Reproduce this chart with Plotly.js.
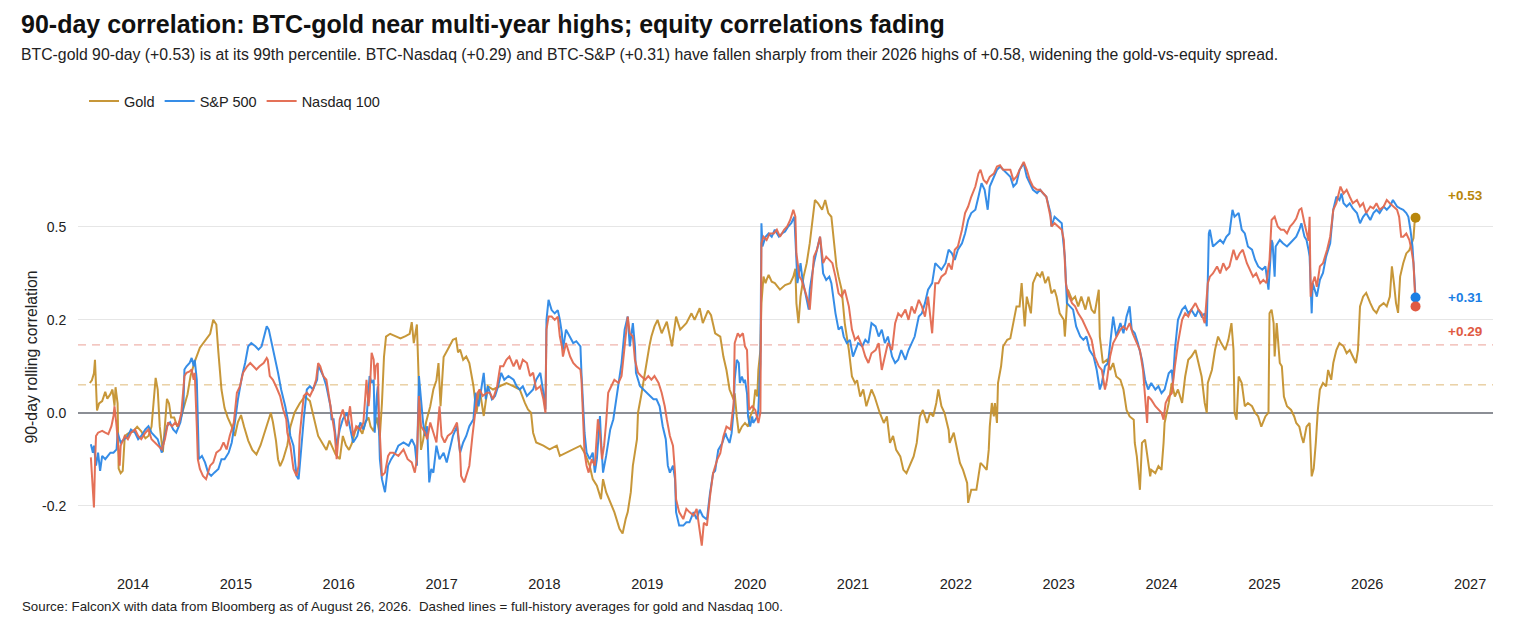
<!DOCTYPE html>
<html>
<head>
<meta charset="utf-8">
<script src="https://cdn.plot.ly/plotly-3.0.1.min.js"></script>
<style>html,body{margin:0;padding:0;background:#fff}#chart{width:1517px;height:630px}</style>
</head>
<body>
<div id="chart"></div>
<script>
// ---------- DATA (decimal year, 90-day rolling correlation as plotted) ----------
const goldDates = [2013.58,2013.60,2013.62,2013.63,2013.65,2013.67,2013.70,2013.73,2013.75,2013.78,2013.80,2013.82,2013.83,2013.85,2013.86,2013.88,2013.90,2013.92,2013.95,2014.00,2014.04,2014.08,2014.12,2014.15,2014.18,2014.20,2014.22,2014.24,2014.26,2014.29,2014.31,2014.33,2014.35,2014.37,2014.40,2014.43,2014.46,2014.50,2014.53,2014.56,2014.60,2014.65,2014.70,2014.75,2014.78,2014.81,2014.83,2014.86,2014.89,2014.92,2014.96,2014.99,2015.02,2015.05,2015.08,2015.12,2015.16,2015.20,2015.24,2015.28,2015.31,2015.34,2015.36,2015.39,2015.41,2015.43,2015.46,2015.50,2015.53,2015.57,2015.62,2015.67,2015.72,2015.76,2015.80,2015.84,2015.88,2015.91,2015.94,2015.97,2016.01,2016.04,2016.07,2016.10,2016.13,2016.16,2016.19,2016.23,2016.26,2016.29,2016.31,2016.34,2016.37,2016.40,2016.42,2016.44,2016.46,2016.50,2016.55,2016.60,2016.65,2016.69,2016.71,2016.73,2016.76,2016.78,2016.80,2016.82,2016.85,2016.89,2016.92,2016.95,2016.97,2016.99,2017.02,2017.06,2017.11,2017.14,2017.16,2017.18,2017.21,2017.24,2017.27,2017.30,2017.31,2017.34,2017.37,2017.41,2017.45,2017.50,2017.57,2017.63,2017.70,2017.76,2017.81,2017.84,2017.87,2017.89,2017.92,2017.99,2018.05,2018.12,2018.15,2018.21,2018.28,2018.35,2018.39,2018.44,2018.47,2018.51,2018.55,2018.57,2018.60,2018.65,2018.68,2018.73,2018.76,2018.79,2018.81,2018.84,2018.86,2018.90,2018.91,2018.94,2018.99,2019.02,2019.04,2019.07,2019.10,2019.14,2019.19,2019.24,2019.28,2019.32,2019.38,2019.43,2019.46,2019.51,2019.54,2019.59,2019.62,2019.66,2019.71,2019.74,2019.77,2019.80,2019.84,2019.85,2019.87,2019.89,2019.92,2019.95,2019.98,2020.00,2020.03,2020.05,2020.07,2020.08,2020.10,2020.11,2020.13,2020.15,2020.16,2020.18,2020.21,2020.24,2020.29,2020.34,2020.39,2020.42,2020.44,2020.45,2020.47,2020.49,2020.52,2020.55,2020.58,2020.60,2020.63,2020.66,2020.70,2020.73,2020.76,2020.79,2020.81,2020.83,2020.84,2020.86,2020.89,2020.92,2020.96,2020.99,2021.02,2021.04,2021.07,2021.10,2021.13,2021.18,2021.21,2021.26,2021.30,2021.33,2021.36,2021.39,2021.42,2021.46,2021.49,2021.52,2021.55,2021.59,2021.62,2021.65,2021.68,2021.72,2021.75,2021.78,2021.81,2021.83,2021.86,2021.89,2021.93,2021.94,2021.98,2022.01,2022.04,2022.07,2022.11,2022.12,2022.15,2022.20,2022.24,2022.27,2022.30,2022.32,2022.33,2022.35,2022.37,2022.38,2022.40,2022.41,2022.44,2022.46,2022.50,2022.53,2022.56,2022.59,2022.62,2022.64,2022.67,2022.69,2022.73,2022.75,2022.79,2022.82,2022.84,2022.87,2022.90,2022.93,2022.96,2022.98,2023.01,2023.05,2023.06,2023.09,2023.13,2023.16,2023.19,2023.22,2023.26,2023.29,2023.32,2023.35,2023.39,2023.40,2023.43,2023.47,2023.50,2023.53,2023.56,2023.60,2023.63,2023.66,2023.69,2023.73,2023.74,2023.76,2023.79,2023.81,2023.84,2023.87,2023.89,2023.90,2023.94,2023.97,2024.00,2024.02,2024.03,2024.07,2024.10,2024.13,2024.16,2024.20,2024.23,2024.26,2024.29,2024.33,2024.36,2024.39,2024.42,2024.44,2024.45,2024.49,2024.52,2024.55,2024.58,2024.62,2024.65,2024.68,2024.70,2024.71,2024.73,2024.75,2024.78,2024.81,2024.84,2024.88,2024.91,2024.94,2024.97,2025.01,2025.04,2025.05,2025.07,2025.09,2025.10,2025.12,2025.15,2025.17,2025.19,2025.22,2025.26,2025.29,2025.31,2025.34,2025.36,2025.38,2025.41,2025.44,2025.46,2025.48,2025.50,2025.52,2025.54,2025.57,2025.60,2025.62,2025.65,2025.67,2025.70,2025.73,2025.77,2025.80,2025.83,2025.86,2025.89,2025.91,2025.93,2025.96,2025.99,2026.03,2026.06,2026.09,2026.12,2026.16,2026.19,2026.22,2026.24,2026.26,2026.28,2026.30,2026.32,2026.35,2026.38,2026.41,2026.43,2026.45,2026.46,2026.47];
const goldCorr = [0.064,0.07,0.085,0.114,0.005,0.02,0.025,0.045,0.03,0.04,0.05,0.015,0.055,0.02,-0.12,-0.13,-0.125,-0.05,-0.045,-0.04,-0.03,-0.04,-0.055,-0.05,-0.03,0.02,0.075,0.05,-0.03,-0.085,-0.03,0.03,0.02,-0.01,-0.01,-0.03,-0.015,0.02,0.04,0.08,0.11,0.14,0.155,0.17,0.2,0.19,0.13,0.05,0.01,-0.01,-0.03,-0.05,-0.02,-0.005,-0.03,-0.06,-0.08,-0.09,-0.07,-0.04,-0.02,0.0,-0.02,-0.06,-0.1,-0.115,-0.1,-0.07,-0.03,0.0,0.02,0.035,0.025,-0.01,-0.05,-0.065,-0.08,-0.06,-0.075,-0.09,-0.1,-0.05,-0.07,-0.08,-0.065,-0.04,-0.03,-0.045,-0.02,-0.01,-0.03,-0.04,-0.01,-0.05,0.02,0.12,0.164,0.17,0.165,0.16,0.165,0.17,0.195,0.15,0.19,0.05,-0.08,-0.06,-0.02,0.014,0.05,0.07,0.107,0.014,0.12,0.136,0.157,0.16,0.13,0.136,0.114,0.121,0.107,0.07,0.057,0.0,0.05,-0.007,0.057,0.05,0.057,0.064,0.057,0.05,0.021,0.007,0.0,-0.043,-0.064,-0.071,-0.079,-0.071,-0.093,-0.086,-0.079,-0.071,-0.086,-0.114,-0.143,-0.157,-0.186,-0.143,-0.171,-0.2,-0.214,-0.25,-0.26,-0.229,-0.214,-0.171,-0.114,-0.057,0.0,0.036,0.107,0.143,0.164,0.186,0.2,0.171,0.196,0.143,0.207,0.179,0.193,0.214,0.2,0.225,0.193,0.22,0.21,0.171,0.164,0.121,0.092,0.05,0.028,0.042,-0.008,-0.044,-0.03,-0.022,-0.03,-0.008,0.006,0.05,0.035,0.092,0.135,0.236,0.293,0.279,0.286,0.297,0.282,0.279,0.265,0.275,0.279,0.293,0.31,0.236,0.193,0.25,0.293,0.322,0.365,0.408,0.458,0.451,0.437,0.458,0.43,0.422,0.379,0.329,0.315,0.293,0.265,0.193,0.135,0.078,0.064,0.07,0.035,0.05,0.014,0.05,0.035,0.0,-0.022,-0.008,-0.065,-0.05,-0.08,-0.094,-0.123,-0.13,-0.115,-0.094,-0.065,-0.008,0.006,-0.022,0.0,-0.008,0.021,0.05,0.014,0.0,-0.037,-0.065,-0.043,-0.08,-0.108,-0.123,-0.151,-0.194,-0.166,-0.166,-0.108,-0.115,-0.123,-0.08,-0.03,0.021,-0.008,0.021,-0.022,0.064,0.1,0.143,0.157,0.16,0.193,0.229,0.229,0.279,0.186,0.25,0.214,0.279,0.3,0.293,0.304,0.279,0.293,0.257,0.265,0.25,0.214,0.2,0.164,0.265,0.243,0.25,0.229,0.25,0.222,0.25,0.222,0.214,0.265,0.164,0.107,0.114,0.092,0.107,0.078,0.071,0.05,0.006,-0.008,-0.015,-0.065,-0.094,-0.166,-0.065,-0.058,-0.101,-0.137,-0.123,-0.13,-0.115,-0.123,-0.065,-0.022,0.021,0.064,0.035,0.05,0.021,0.078,0.114,0.121,0.135,0.107,0.078,0.021,0.0,0.064,0.092,0.135,0.164,0.15,0.135,0.157,0.193,0.135,0.0,-0.015,0.078,0.064,0.014,0.021,0.014,0.0,-0.008,-0.03,-0.008,0.0,0.214,0.222,0.193,0.121,0.193,0.107,0.1,0.035,0.014,0.006,-0.008,-0.022,-0.03,-0.05,-0.065,-0.03,-0.022,-0.137,-0.12,-0.065,0.006,0.05,0.064,0.057,0.092,0.071,0.107,0.135,0.15,0.143,0.128,0.135,0.121,0.107,0.135,0.229,0.25,0.258,0.236,0.222,0.215,0.229,0.236,0.229,0.25,0.315,0.279,0.236,0.215,0.293,0.322,0.343,0.35,0.365,0.376,0.408,0.42];

const spxDates = [2013.59,2013.61,2013.62,2013.64,2013.66,2013.68,2013.70,2013.73,2013.78,2013.81,2013.84,2013.85,2013.88,2013.91,2013.95,2013.98,2014.02,2014.05,2014.08,2014.12,2014.15,2014.18,2014.21,2014.24,2014.28,2014.29,2014.33,2014.36,2014.39,2014.42,2014.46,2014.49,2014.50,2014.52,2014.55,2014.57,2014.59,2014.60,2014.62,2014.64,2014.67,2014.70,2014.73,2014.76,2014.79,2014.83,2014.86,2014.89,2014.93,2014.96,2014.99,2015.02,2015.06,2015.09,2015.12,2015.15,2015.19,2015.22,2015.25,2015.28,2015.30,2015.32,2015.35,2015.38,2015.41,2015.44,2015.48,2015.51,2015.53,2015.56,2015.59,2015.61,2015.62,2015.66,2015.69,2015.72,2015.75,2015.79,2015.80,2015.82,2015.85,2015.88,2015.92,2015.93,2015.95,2015.98,2016.01,2016.04,2016.08,2016.11,2016.14,2016.18,2016.21,2016.24,2016.27,2016.30,2016.32,2016.34,2016.35,2016.37,2016.38,2016.40,2016.42,2016.45,2016.48,2016.51,2016.55,2016.58,2016.63,2016.68,2016.71,2016.74,2016.76,2016.78,2016.80,2016.82,2016.84,2016.86,2016.88,2016.90,2016.92,2016.95,2016.98,2017.02,2017.05,2017.08,2017.11,2017.15,2017.18,2017.21,2017.24,2017.27,2017.31,2017.33,2017.36,2017.39,2017.41,2017.43,2017.45,2017.49,2017.52,2017.55,2017.58,2017.61,2017.65,2017.70,2017.73,2017.76,2017.79,2017.83,2017.86,2017.89,2017.92,2017.96,2017.99,2018.01,2018.02,2018.04,2018.07,2018.10,2018.13,2018.15,2018.17,2018.18,2018.21,2018.25,2018.28,2018.31,2018.35,2018.36,2018.38,2018.39,2018.41,2018.44,2018.47,2018.49,2018.51,2018.54,2018.55,2018.57,2018.60,2018.64,2018.67,2018.70,2018.73,2018.75,2018.78,2018.81,2018.83,2018.86,2018.88,2018.89,2018.93,2018.96,2018.99,2019.02,2019.06,2019.09,2019.12,2019.15,2019.18,2019.20,2019.22,2019.25,2019.27,2019.28,2019.31,2019.35,2019.38,2019.41,2019.45,2019.48,2019.51,2019.54,2019.58,2019.61,2019.64,2019.66,2019.69,2019.73,2019.76,2019.77,2019.80,2019.82,2019.84,2019.85,2019.87,2019.89,2019.90,2019.92,2019.94,2019.95,2019.97,2019.98,2020.00,2020.02,2020.03,2020.05,2020.07,2020.08,2020.10,2020.11,2020.12,2020.15,2020.18,2020.21,2020.24,2020.28,2020.31,2020.34,2020.37,2020.40,2020.43,2020.45,2020.46,2020.49,2020.51,2020.53,2020.57,2020.58,2020.62,2020.65,2020.68,2020.71,2020.74,2020.77,2020.79,2020.83,2020.86,2020.89,2020.91,2020.94,2020.97,2021.00,2021.04,2021.05,2021.09,2021.12,2021.15,2021.18,2021.22,2021.25,2021.28,2021.31,2021.34,2021.38,2021.41,2021.44,2021.47,2021.51,2021.54,2021.57,2021.60,2021.64,2021.67,2021.70,2021.73,2021.77,2021.80,2021.83,2021.86,2021.90,2021.93,2021.96,2021.99,2022.02,2022.06,2022.09,2022.12,2022.15,2022.19,2022.22,2022.25,2022.28,2022.31,2022.33,2022.37,2022.40,2022.43,2022.46,2022.49,2022.53,2022.56,2022.59,2022.62,2022.66,2022.69,2022.72,2022.75,2022.79,2022.82,2022.85,2022.88,2022.92,2022.93,2022.96,2023.00,2023.03,2023.04,2023.06,2023.08,2023.11,2023.14,2023.17,2023.21,2023.24,2023.27,2023.30,2023.34,2023.37,2023.40,2023.42,2023.45,2023.48,2023.51,2023.53,2023.56,2023.60,2023.63,2023.66,2023.69,2023.71,2023.74,2023.77,2023.81,2023.84,2023.87,2023.90,2023.94,2023.97,2024.00,2024.03,2024.07,2024.10,2024.11,2024.13,2024.16,2024.20,2024.23,2024.26,2024.29,2024.33,2024.36,2024.39,2024.42,2024.44,2024.46,2024.47,2024.50,2024.54,2024.57,2024.60,2024.63,2024.66,2024.69,2024.71,2024.75,2024.78,2024.81,2024.84,2024.88,2024.91,2024.94,2024.98,2025.01,2025.04,2025.07,2025.08,2025.10,2025.11,2025.15,2025.18,2025.22,2025.25,2025.28,2025.31,2025.34,2025.36,2025.39,2025.41,2025.43,2025.44,2025.46,2025.47,2025.51,2025.54,2025.57,2025.60,2025.64,2025.67,2025.70,2025.73,2025.75,2025.77,2025.80,2025.83,2025.86,2025.90,2025.93,2025.96,2025.99,2026.03,2026.06,2026.09,2026.12,2026.16,2026.19,2026.22,2026.25,2026.29,2026.32,2026.35,2026.38,2026.40,2026.42,2026.44,2026.45,2026.46,2026.47];
const spxCorr = [-0.068,-0.086,-0.071,-0.114,-0.086,-0.125,-0.093,-0.1,-0.086,-0.086,-0.079,-0.043,-0.064,-0.057,-0.05,-0.036,-0.043,-0.057,-0.05,-0.036,-0.029,-0.043,-0.05,-0.057,-0.086,-0.071,-0.029,-0.021,-0.036,-0.043,-0.021,0.014,0.093,0.1,0.107,0.118,0.1,0.114,0.071,-0.1,-0.093,-0.107,-0.129,-0.136,-0.129,-0.121,-0.1,-0.1,-0.086,-0.064,-0.021,0.029,0.079,0.107,0.143,0.15,0.143,0.136,0.143,0.171,0.186,0.179,0.15,0.114,0.086,0.05,0.014,-0.021,-0.05,-0.071,-0.136,-0.143,-0.114,-0.014,0.05,0.057,0.05,0.071,0.1,0.093,0.079,0.057,0.014,-0.014,-0.014,-0.071,-0.036,-0.014,0.0,-0.036,-0.064,-0.05,-0.021,-0.036,-0.014,0.079,0.064,0.071,-0.043,0.036,0.057,-0.1,-0.143,-0.171,-0.114,-0.1,-0.086,-0.071,-0.064,-0.071,-0.057,-0.071,-0.114,0.079,0.029,-0.021,-0.05,-0.029,-0.15,-0.121,-0.129,-0.071,-0.1,-0.086,-0.107,-0.079,-0.05,-0.029,-0.086,-0.064,-0.05,-0.029,-0.014,0.043,0.014,0.057,0.086,0.029,0.057,0.029,0.036,0.057,0.086,0.071,0.079,0.071,0.057,0.05,0.057,0.036,0.043,0.05,0.071,0.086,0.043,0.007,0.2,0.243,0.221,0.214,0.221,0.2,0.171,0.136,0.179,0.164,0.15,0.154,0.143,0.086,0.0,-0.043,-0.086,-0.1,-0.086,-0.129,-0.1,-0.007,-0.057,-0.129,-0.093,-0.036,-0.014,0.029,0.071,0.107,0.179,0.207,0.143,0.193,0.143,0.086,0.057,0.05,0.043,0.036,0.029,0.029,0.014,-0.029,-0.057,-0.114,-0.129,-0.114,-0.143,-0.214,-0.243,-0.243,-0.236,-0.236,-0.214,-0.229,-0.209,-0.223,-0.23,-0.173,-0.13,-0.125,-0.08,-0.065,-0.044,-0.051,-0.065,-0.044,0.006,0.071,0.114,0.107,0.064,0.078,0.064,0.071,0.042,-0.008,-0.03,-0.008,-0.022,-0.015,-0.008,0.006,0.107,0.408,0.358,0.379,0.386,0.379,0.394,0.379,0.386,0.39,0.401,0.408,0.422,0.329,0.279,0.322,0.286,0.265,0.222,0.265,0.322,0.351,0.379,0.3,0.286,0.293,0.279,0.214,0.179,0.186,0.164,0.15,0.157,0.121,0.143,0.15,0.143,0.157,0.15,0.193,0.186,0.164,0.179,0.15,0.164,0.121,0.107,0.114,0.135,0.114,0.135,0.15,0.164,0.207,0.214,0.236,0.265,0.279,0.322,0.315,0.308,0.322,0.351,0.344,0.329,0.351,0.365,0.386,0.415,0.43,0.437,0.465,0.494,0.48,0.437,0.487,0.508,0.523,0.53,0.523,0.516,0.508,0.487,0.494,0.523,0.537,0.508,0.494,0.48,0.473,0.48,0.472,0.465,0.43,0.401,0.422,0.415,0.408,0.379,0.336,0.236,0.229,0.222,0.186,0.164,0.157,0.164,0.135,0.121,0.092,0.05,0.064,0.1,0.107,0.164,0.207,0.164,0.193,0.171,0.207,0.229,0.179,0.171,0.15,0.114,0.071,0.05,0.064,0.05,0.057,0.042,0.05,0.085,0.092,0.064,0.135,0.2,0.222,0.229,0.214,0.222,0.207,0.222,0.207,0.214,0.186,0.386,0.394,0.358,0.365,0.372,0.365,0.379,0.386,0.437,0.422,0.43,0.394,0.386,0.358,0.351,0.329,0.315,0.308,0.315,0.265,0.372,0.365,0.293,0.358,0.372,0.365,0.358,0.365,0.372,0.379,0.394,0.408,0.379,0.372,0.35,0.336,0.214,0.279,0.25,0.286,0.301,0.336,0.365,0.437,0.465,0.458,0.472,0.451,0.444,0.451,0.44,0.43,0.408,0.422,0.43,0.415,0.43,0.437,0.43,0.444,0.437,0.444,0.458,0.444,0.44,0.437,0.43,0.422,0.394,0.358,0.322,0.28,0.248];

const ndxDates = [2013.59,2013.60,2013.61,2013.62,2013.63,2013.64,2013.66,2013.70,2013.73,2013.76,2013.79,2013.81,2013.82,2013.84,2013.87,2013.88,2013.92,2013.95,2013.98,2014.02,2014.05,2014.08,2014.12,2014.15,2014.18,2014.21,2014.24,2014.28,2014.31,2014.34,2014.38,2014.41,2014.44,2014.47,2014.50,2014.52,2014.55,2014.57,2014.59,2014.60,2014.62,2014.63,2014.65,2014.68,2014.71,2014.75,2014.78,2014.81,2014.85,2014.88,2014.91,2014.94,2014.98,2015.01,2015.04,2015.07,2015.11,2015.14,2015.17,2015.20,2015.23,2015.27,2015.30,2015.31,2015.33,2015.36,2015.39,2015.43,2015.46,2015.49,2015.50,2015.53,2015.56,2015.59,2015.61,2015.62,2015.66,2015.69,2015.72,2015.75,2015.78,2015.80,2015.82,2015.85,2015.88,2015.91,2015.93,2015.96,2015.98,2016.01,2016.04,2016.08,2016.11,2016.14,2016.17,2016.21,2016.24,2016.27,2016.29,2016.30,2016.32,2016.34,2016.35,2016.36,2016.38,2016.39,2016.42,2016.45,2016.48,2016.50,2016.53,2016.58,2016.63,2016.67,2016.71,2016.74,2016.76,2016.78,2016.80,2016.84,2016.86,2016.89,2016.92,2016.95,2016.98,2017.00,2017.03,2017.06,2017.10,2017.13,2017.15,2017.18,2017.19,2017.22,2017.25,2017.27,2017.30,2017.32,2017.35,2017.37,2017.40,2017.44,2017.47,2017.50,2017.54,2017.57,2017.60,2017.63,2017.66,2017.70,2017.73,2017.76,2017.79,2017.83,2017.86,2017.89,2017.92,2017.96,2017.99,2018.01,2018.02,2018.04,2018.07,2018.10,2018.13,2018.15,2018.17,2018.18,2018.21,2018.25,2018.28,2018.31,2018.35,2018.36,2018.38,2018.39,2018.41,2018.43,2018.46,2018.49,2018.52,2018.54,2018.56,2018.58,2018.60,2018.62,2018.65,2018.68,2018.72,2018.75,2018.78,2018.81,2018.83,2018.86,2018.88,2018.91,2018.94,2018.98,2019.01,2019.04,2019.07,2019.11,2019.14,2019.17,2019.19,2019.22,2019.25,2019.27,2019.28,2019.31,2019.35,2019.38,2019.41,2019.45,2019.48,2019.50,2019.53,2019.55,2019.58,2019.61,2019.64,2019.68,2019.71,2019.74,2019.77,2019.81,2019.84,2019.85,2019.88,2019.90,2019.93,2019.95,2019.97,2019.99,2020.02,2020.05,2020.08,2020.10,2020.11,2020.13,2020.16,2020.19,2020.23,2020.26,2020.29,2020.33,2020.36,2020.39,2020.42,2020.44,2020.45,2020.48,2020.50,2020.53,2020.57,2020.58,2020.62,2020.65,2020.68,2020.71,2020.74,2020.77,2020.80,2020.83,2020.86,2020.89,2020.92,2020.96,2020.99,2021.02,2021.05,2021.09,2021.12,2021.15,2021.18,2021.22,2021.25,2021.28,2021.31,2021.34,2021.38,2021.41,2021.44,2021.47,2021.51,2021.54,2021.57,2021.60,2021.64,2021.67,2021.70,2021.73,2021.77,2021.78,2021.80,2021.83,2021.86,2021.90,2021.93,2021.96,2021.99,2022.02,2022.06,2022.09,2022.12,2022.15,2022.19,2022.22,2022.24,2022.27,2022.30,2022.33,2022.37,2022.40,2022.43,2022.46,2022.49,2022.53,2022.56,2022.59,2022.62,2022.66,2022.69,2022.72,2022.75,2022.79,2022.82,2022.85,2022.88,2022.92,2022.93,2022.96,2023.00,2023.03,2023.05,2023.07,2023.09,2023.13,2023.16,2023.19,2023.23,2023.26,2023.29,2023.32,2023.35,2023.39,2023.42,2023.45,2023.47,2023.50,2023.53,2023.56,2023.60,2023.63,2023.66,2023.69,2023.72,2023.76,2023.79,2023.82,2023.84,2023.86,2023.87,2023.90,2023.94,2023.97,2024.00,2024.02,2024.04,2024.07,2024.10,2024.13,2024.16,2024.20,2024.23,2024.26,2024.29,2024.33,2024.36,2024.39,2024.42,2024.45,2024.47,2024.50,2024.54,2024.57,2024.60,2024.63,2024.66,2024.70,2024.73,2024.76,2024.79,2024.83,2024.86,2024.89,2024.92,2024.96,2024.99,2025.02,2025.05,2025.07,2025.10,2025.13,2025.16,2025.19,2025.22,2025.25,2025.28,2025.31,2025.34,2025.36,2025.39,2025.42,2025.43,2025.44,2025.45,2025.47,2025.49,2025.51,2025.54,2025.57,2025.61,2025.64,2025.67,2025.70,2025.74,2025.77,2025.80,2025.83,2025.86,2025.90,2025.93,2025.96,2025.99,2026.03,2026.06,2026.09,2026.12,2026.16,2026.19,2026.22,2026.25,2026.29,2026.31,2026.33,2026.35,2026.38,2026.41,2026.43,2026.45,2026.46,2026.47];
const ndxCorr = [-0.096,-0.129,-0.157,-0.204,-0.114,-0.05,-0.043,-0.039,-0.043,-0.046,-0.029,-0.007,0.014,-0.029,-0.114,-0.071,-0.05,-0.057,-0.043,-0.036,-0.05,-0.057,-0.043,-0.036,-0.057,-0.064,-0.071,-0.079,-0.057,-0.021,-0.029,-0.021,-0.029,0.0,0.079,0.086,0.089,0.093,0.071,0.086,-0.029,-0.1,-0.121,-0.136,-0.143,-0.114,-0.107,-0.086,-0.079,-0.064,-0.079,-0.05,-0.021,0.043,0.057,0.086,0.1,0.107,0.1,0.093,0.1,0.107,0.118,0.114,0.079,0.071,0.057,0.036,0.007,-0.014,-0.043,-0.071,-0.121,-0.136,-0.114,-0.05,0.036,0.043,0.036,0.05,0.071,0.107,0.1,0.079,0.071,0.021,0.0,-0.043,-0.1,-0.014,0.007,-0.029,0.014,-0.05,-0.029,-0.036,-0.021,0.071,0.014,0.036,0.129,0.114,0.071,0.1,0.107,0.0,-0.136,-0.129,-0.093,-0.086,-0.086,-0.093,-0.079,-0.1,-0.107,-0.129,-0.1,0.036,-0.029,-0.043,-0.057,-0.021,-0.043,-0.064,0.014,-0.05,-0.064,-0.05,-0.043,-0.029,-0.021,-0.086,-0.136,-0.15,-0.129,-0.114,-0.05,-0.007,0.043,0.05,0.036,0.043,0.043,0.029,0.057,0.1,0.1,0.114,0.121,0.1,0.114,0.093,0.114,0.107,0.079,0.086,0.05,0.057,0.029,0.0,0.179,0.207,0.207,0.2,0.207,0.164,0.143,0.121,0.15,0.121,0.107,0.1,0.093,0.071,-0.029,-0.086,-0.114,-0.129,-0.1,-0.114,-0.014,-0.043,-0.1,-0.071,-0.021,0.043,0.057,0.071,0.064,0.079,0.143,0.207,0.171,0.164,0.114,0.086,0.079,0.071,0.079,0.071,0.079,0.064,0.043,0.014,-0.014,-0.05,-0.071,-0.129,-0.186,-0.214,-0.229,-0.207,-0.214,-0.221,-0.207,-0.243,-0.286,-0.237,-0.243,-0.18,-0.13,-0.101,-0.087,-0.051,-0.03,-0.036,0.021,0.15,0.171,0.164,0.171,0.143,0.135,0.006,0.014,0.006,-0.022,0.0,0.365,0.379,0.372,0.386,0.386,0.394,0.379,0.394,0.401,0.415,0.437,0.422,0.343,0.293,0.286,0.265,0.236,0.222,0.336,0.351,0.379,0.322,0.336,0.329,0.322,0.293,0.257,0.25,0.265,0.229,0.179,0.157,0.164,0.143,0.121,0.107,0.128,0.135,0.15,0.092,0.121,0.15,0.135,0.193,0.214,0.207,0.222,0.2,0.229,0.214,0.243,0.229,0.207,0.25,0.171,0.207,0.279,0.279,0.293,0.3,0.322,0.308,0.351,0.358,0.394,0.43,0.444,0.465,0.487,0.515,0.523,0.501,0.494,0.508,0.515,0.53,0.533,0.523,0.523,0.523,0.501,0.508,0.523,0.54,0.523,0.501,0.487,0.48,0.48,0.472,0.465,0.422,0.401,0.408,0.401,0.394,0.372,0.279,0.257,0.236,0.229,0.214,0.2,0.186,0.171,0.157,0.121,0.1,0.092,0.05,0.071,0.121,0.15,0.164,0.179,0.186,0.179,0.193,0.171,0.15,0.135,0.092,0.042,-0.022,0.035,0.028,0.014,0.006,0.0,-0.015,0.021,0.035,0.042,0.1,0.15,0.2,0.214,0.207,0.222,0.236,0.222,0.214,0.193,0.279,0.293,0.3,0.315,0.3,0.322,0.308,0.315,0.351,0.329,0.343,0.351,0.322,0.308,0.293,0.3,0.279,0.286,0.279,0.329,0.415,0.422,0.401,0.394,0.394,0.386,0.401,0.408,0.418,0.437,0.44,0.408,0.379,0.37,0.422,0.25,0.28,0.293,0.271,0.315,0.322,0.351,0.379,0.437,0.451,0.487,0.472,0.48,0.465,0.451,0.458,0.444,0.451,0.43,0.444,0.44,0.451,0.437,0.444,0.458,0.451,0.444,0.437,0.422,0.379,0.379,0.386,0.372,0.351,0.322,0.25,0.229];

// full-history averages (dashed reference lines)
const goldAvg = 0.06;
const ndxAvg = 0.146;

const seriesNames = ['Gold', 'S&P 500', 'Nasdaq 100'];
const endLabels = ['+0.53', '+0.31', '+0.29'];
const yearTicks = [2014,2015,2016,2017,2018,2019,2020,2021,2022,2023,2024,2025,2026,2027];
const yTickVals = [-0.2, 0.0, 0.2, 0.4];
const yTickText = ['-0.2', '0.0', '0.2', '0.5'];

// ---------- STYLE ----------
const C_GOLD = '#C4912E', C_SPX = '#2B87E6', C_NDX = '#E3694F';
const C_GOLD_DOT = '#B8860B', C_SPX_DOT = '#1A7EE4', C_NDX_DOT = '#E05A43';
const FONT = '"Liberation Sans", Arial, Helvetica, sans-serif';

const last = a => a[a.length - 1];

const traces = [
  {x: goldDates, y: goldCorr, name: seriesNames[0], mode: 'lines', line: {color: C_GOLD, width: 2}, opacity: 0.95, hoverinfo: 'skip'},
  {x: spxDates, y: spxCorr, name: seriesNames[1], mode: 'lines', line: {color: C_SPX, width: 2}, opacity: 0.95, hoverinfo: 'skip'},
  {x: ndxDates, y: ndxCorr, name: seriesNames[2], mode: 'lines', line: {color: C_NDX, width: 2}, opacity: 0.95, hoverinfo: 'skip'},
  {x: [last(goldDates)], y: [last(goldCorr)], mode: 'markers', marker: {color: C_GOLD_DOT, size: 10}, showlegend: false, hoverinfo: 'skip'},
  {x: [last(spxDates)], y: [last(spxCorr)], mode: 'markers', marker: {color: C_SPX_DOT, size: 10}, showlegend: false, hoverinfo: 'skip'},
  {x: [last(ndxDates)], y: [last(ndxCorr)], mode: 'markers', marker: {color: C_NDX_DOT, size: 10}, showlegend: false, hoverinfo: 'skip'}
];

function endLabel(xv, yv, text, color, yshift) {
  return {x: xv, y: yv, xref: 'x', yref: 'y', text: '<b>' + text + '</b>', showarrow: false,
    xanchor: 'left', yanchor: 'middle', xshift: 29, yshift: yshift,
    font: {family: FONT, size: 13.5, color: color}, bgcolor: '#ffffff', borderpad: 2};
}

const layout = {
  width: 1517, height: 630,
  paper_bgcolor: '#ffffff', plot_bgcolor: '#ffffff',
  margin: {l: 78, r: 24, t: 148, b: 64, pad: 0},
  font: {family: FONT, size: 14, color: '#222'},
  title: {
    text: '90-day correlation: BTC-gold near multi-year highs; equity correlations fading',
    xref: 'container', x: 21 / 1517, xanchor: 'left',
    yref: 'container', y: 1 - 24 / 630, yanchor: 'middle',
    font: {family: FONT, size: 25, color: '#111', weight: 700}
  },
  xaxis: {
    range: [2013.465, 2027.223],
    tickmode: 'array', tickvals: yearTicks, ticktext: yearTicks.map(String),
    showgrid: false, zeroline: false, showline: false,
    ticks: 'outside', ticklen: 5, tickcolor: 'rgba(0,0,0,0)',
    tickfont: {family: FONT, size: 14.5, color: '#222'}, fixedrange: true
  },
  yaxis: {
    range: [-0.33, 0.57],
    tickmode: 'array', tickvals: yTickVals, ticktext: yTickText,
    showgrid: true, gridcolor: '#e6e6e6', gridwidth: 1,
    zeroline: true, zerolinecolor: '#8b8e95', zerolinewidth: 2,
    showline: false,
    ticks: 'outside', ticklen: 8, tickcolor: 'rgba(0,0,0,0)',
    tickfont: {family: FONT, size: 14, color: '#222'},
    title: {text: '90-day rolling correlation', font: {family: FONT, size: 15.8, color: '#222'}, standoff: 0},
    fixedrange: true
  },
  showlegend: true,
  legend: {
    orientation: 'h', xref: 'paper', yref: 'paper',
    x: 6 / 1415, xanchor: 'left', y: 1.112, yanchor: 'middle',
    font: {family: FONT, size: 14.5, color: '#222'},
    bgcolor: 'rgba(0,0,0,0)', traceorder: 'normal', itemclick: false
  },
  shapes: [
    {type: 'line', xref: 'paper', x0: 0, x1: 1, yref: 'y', y0: ndxAvg, y1: ndxAvg, layer: 'between',
     line: {color: 'rgba(228,130,115,0.75)', width: 1, dash: '8px,6px'}},
    {type: 'line', xref: 'paper', x0: 0, x1: 1, yref: 'y', y0: goldAvg, y1: goldAvg, layer: 'between',
     line: {color: 'rgba(214,168,85,0.8)', width: 1, dash: '8px,6px'}}
  ],
  annotations: [
    {text: 'BTC-gold 90-day (+0.53) is at its 99th percentile. BTC-Nasdaq (+0.29) and BTC-S&P (+0.31) have fallen sharply from their 2026 highs of +0.58, widening the gold-vs-equity spread.',
     xref: 'paper', yref: 'paper', x: (19 - 78) / 1415, y: (566 - 55) / 418, xanchor: 'left', yanchor: 'middle',
     showarrow: false, font: {family: FONT, size: 15.8, color: '#222'}},
    {text: 'Source: FalconX with data from Bloomberg as of August 26, 2026.  Dashed lines = full-history averages for gold and Nasdaq 100.',
     xref: 'paper', yref: 'paper', x: (20 - 78) / 1415, y: (566 - 606) / 418, xanchor: 'left', yanchor: 'middle',
     showarrow: false, font: {family: FONT, size: 13.3, color: '#222'}},
    endLabel(last(goldDates), last(goldCorr), endLabels[0], C_GOLD_DOT, 22),
    endLabel(last(spxDates), last(spxCorr), endLabels[1], C_SPX_DOT, 0),
    endLabel(last(ndxDates), last(ndxCorr), endLabels[2], C_NDX_DOT, -25)
  ]
};

Plotly.newPlot('chart', traces, layout, {displayModeBar: false, staticPlot: true});
</script>
</body>
</html>
